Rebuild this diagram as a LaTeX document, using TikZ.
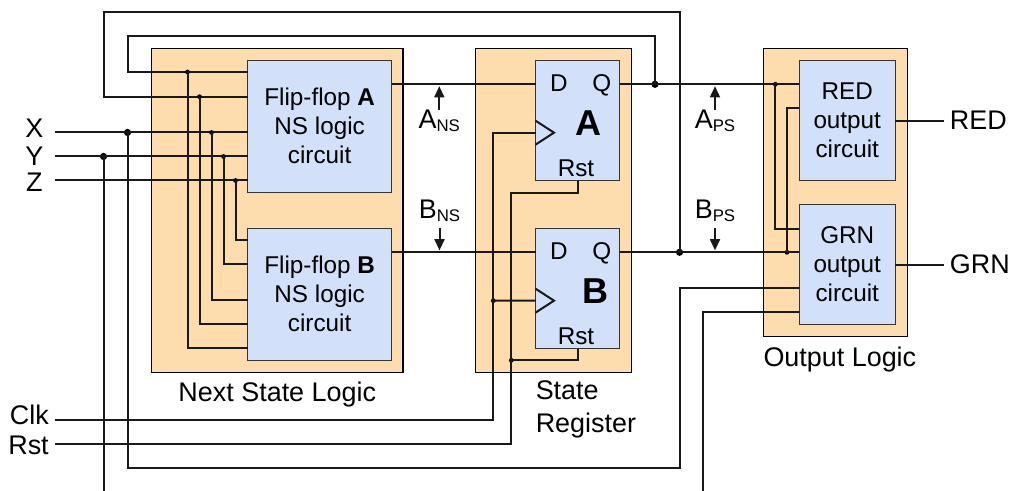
\documentclass[tikz,border=0pt]{standalone}
\usepackage{fontspec}
\setmainfont{Liberation Sans}
\usetikzlibrary{arrows.meta,positioning}
\definecolor{groupfill}{HTML}{FDDCAE}
\definecolor{blockfill}{HTML}{D3E0F9}
\newcommand{\lblfont}{\fontsize{20.2}{24.5}\selectfont}
\newcommand{\blkfont}{\fontsize{18.2}{21.75}\selectfont}
\newcommand{\siglabel}[2]{#1\raisebox{-2.5pt}{\fontsize{12.6}{13}\selectfont #2}}

\begin{document}
\begin{tikzpicture}[
    x=0.75pt, y=-0.75pt,
    groupbox/.style={draw=black, line width=0.9pt, fill=groupfill, rectangle, outer sep=0pt, minimum height=243pt},
    block/.style={draw=black!80, line width=0.9pt, fill=blockfill, rectangle, outer sep=0pt, align=center, font=\blkfont, text depth=0.5pt},
    nsblock/.style={block, minimum width=108pt, minimum height=98.7pt},
    ffblock/.style={block, minimum width=63pt, minimum height=90pt},
    outblock/.style={block, minimum width=72pt, minimum height=90pt},
    wire/.style={line width=1.5pt, black!90},
    arrow/.style={line width=1.5pt, black!90, -{Triangle[length=8.5pt,width=7.5pt]}, shorten >=1.4pt},
    bigdot/.style={circle, fill=black, inner sep=0pt, minimum size=5.4pt},
    smalldot/.style={circle, fill=black, inner sep=0pt, minimum size=3.6pt},
    grouplabel/.style={font=\lblfont, inner sep=0pt},
    sidelabel/.style={font=\lblfont, inner sep=0pt, inner xsep=4.5pt},
    portlabel/.style={font=\blkfont, inner sep=0pt, anchor=base}
]
    \useasboundingbox (0,0) rectangle (1011,491);

    % Groups
    \node [groupbox, minimum width=188.5pt] (nsLogic) at (277.3,210.4) {};
    \node [groupbox, minimum width=117pt, right=54.5pt of nsLogic] (stReg) {};
    \node [groupbox, minimum width=108.3pt, minimum height=215.8pt, below right=0pt and 98.7pt of stReg.north east] (outLogic) {};

    % Next state blocks
    \node [nsblock, below left=9.2pt and 8.5pt of nsLogic.north east] (nsA) {Flip-flop \textbf{A}\\NS logic\\circuit};
    \node [nsblock, below=27.3pt of nsA] (nsB) {Flip-flop \textbf{B}\\NS logic\\circuit};

    % Flip-flops
    \node [ffblock, below left=9.2pt and 9.1pt of stReg.north east] (ffA) {};
    \node [ffblock, below=36pt of ffA] (ffB) {};
    \foreach \ff/\letter/\lx in {ffA/A/53, ffB/B/60.2} {
        \node [portlabel] (\ff D) at ([shift={(23.5,31)}]\ff.north west) {D};
        \node [portlabel] (\ff Q) at ([shift={(66.2,31)}]\ff.north west) {Q};
        \node [portlabel] (\ff Rst) at ([shift={(40.5,115.5)}]\ff.north west) {Rst};
        \node [portlabel, font=\fontsize{27}{27}\selectfont\bfseries] (\ff Name) at ([shift={(\lx,74.5)}]\ff.north west) {\letter};
        \coordinate (\ff Ck) at ([shift={(0,72)}]\ff.north west);
        \draw [wire] ([shift={(0,60)}]\ff.north west) -- ([shift={(18.5,72)}]\ff.north west) -- ([shift={(0,84)}]\ff.north west);
    }

    % Output blocks
    \node [outblock, below left=9.2pt and 9.3pt of outLogic.north east] (redC) {RED\\output\\circuit};
    \node [outblock, below=18pt of redC] (grnC) {GRN\\output\\circuit};

    % Labels
    \node [grouplabel, below=7pt of nsLogic] (nsLbl) {Next State Logic};
    \node [grouplabel, align=left, anchor=north west, yshift=-6.3pt] (stLbl) at (ffB.west |- stReg.south) {State\\Register};
    \node [grouplabel, anchor=north west, yshift=-8pt] (outLbl) at (outLogic.south west) {Output Logic};
    \node [sidelabel, anchor=east, minimum width=30.75pt] (lblX) at (55,128.3) {X};
    \node [sidelabel, anchor=east, minimum width=30.75pt] (lblY) at (55,155.8) {Y};
    \node [sidelabel, anchor=east, minimum width=30.75pt] (lblZ) at (55,182.5) {Z};
    \node [sidelabel, anchor=east] (lblClk) at (55,415) {Clk};
    \node [sidelabel, anchor=east] (lblRst) at (55,445.7) {Rst};
    \node [sidelabel, right=36.3pt of redC] (lblRed) {RED};
    \node [sidelabel, right=36.3pt of grnC] (lblGrn) {GRN};
    \node [grouplabel] (lblANS) at (439.3,120.8) {\siglabel{A}{NS}};
    \node [grouplabel] (lblBNS) at (439.5,210.5) {\siglabel{B}{NS}};
    \node [grouplabel] (lblAPS) at (715,120.8) {\siglabel{A}{PS}};
    \node [grouplabel] (lblBPS) at (715,210.5) {\siglabel{B}{PS}};

    % Junctions
    \node [bigdot] (aTap) at (655,84.3) {};
    \node [bigdot] (bTap) at (679.5,252.3) {};
    \node [bigdot] (xTap) at (127.5,132.5) {};
    \node [bigdot] (yTap) at (103.5,156.5) {};
    \node [smalldot] (clkTap) at (493.3,300.7) {};
    \node [smalldot] (rstTap) at (511.3,360.3) {};
    \node [smalldot] (redTap) at (775.3,84.3) {};
    \node [smalldot] (grnTap) at (787,252.3) {};

    % Inputs
    \draw [wire] (lblX.east |- xTap) -- (nsA.west |- xTap);
    \draw [wire] (lblY.east |- yTap) -- (nsA.west |- yTap);
    \draw [wire] (lblZ.east |- 0,180.5) -- (nsA.west |- 0,180.5);

    % Feedback loops
    \draw [wire] (nsA.west |- 0,72) -| (127.5,36.5) -| (aTap.center);
    \draw [wire] (nsA.west |- 0,96.7) -| (103.5,12.5) -| (bTap.center);

    % Taps into both next state blocks
    \foreach \name/\tx/\ya/\yb in {fa/187.5/72/348.3, fb/199.5/96.7/324.3, x/211.5/132.5/300.3, y/223.5/156.5/264.3, z/235.5/180.5/240.3} {
        \node [smalldot] (\name Ns) at (\tx,\ya) {};
        \draw [wire] (\name Ns.center) |- (nsB.west |- 0,\yb);
    }

    % Next state to flip-flops to outputs
    \draw [wire] (nsA.east |- aTap) -- (ffA.west |- aTap);
    \draw [wire] (nsB.east |- bTap) -- (ffB.west |- bTap);
    \draw [wire] (ffA.east |- aTap) -- (redC.west |- aTap);
    \draw [wire] (ffB.east |- bTap) -- (grnC.west |- bTap);
    \draw [wire] (redTap.center) |- (grnC.west |- 0,228.7);
    \draw [wire] (grnTap.center) |- (redC.west |- 0,108.3);

    % Clk and Rst
    \draw [wire] (lblClk.east |- 0,420.3) -| (clkTap.center) |- (ffACk);
    \draw [wire] (clkTap.center) -- (ffBCk);
    \draw [wire] (lblRst.east |- 0,444.3) -| (rstTap.center) |- (ffA.south |- 0,192.7) -- (ffA.south);
    \draw [wire] (rstTap.center) -| (ffB.south);

    % Long runs to GRN block
    \draw [wire] (xTap.center) |- (bTap |- 0,468.3) |- (grnC.west |- 0,288.3);
    \draw [wire] (yTap.center) -- (yTap |- 0,491);
    \draw [wire] (grnC.west |- 0,312.3) -| (703.3,491);

    % Outputs
    \draw [wire] (redC.east) -- (lblRed.west);
    \draw [wire] (grnC.east) -- (lblGrn.west);

    % Signal arrows
    \draw [arrow] (lblANS.north) -- (lblANS.north |- aTap);
    \draw [arrow] (lblAPS.north) -- (lblAPS.north |- aTap);
    \draw [arrow, shorten <=4.5pt] (lblBNS.south) -- (lblBNS.south |- bTap);
    \draw [arrow, shorten <=4.5pt] (lblBPS.south) -- (lblBPS.south |- bTap);

\end{tikzpicture}
\end{document}
